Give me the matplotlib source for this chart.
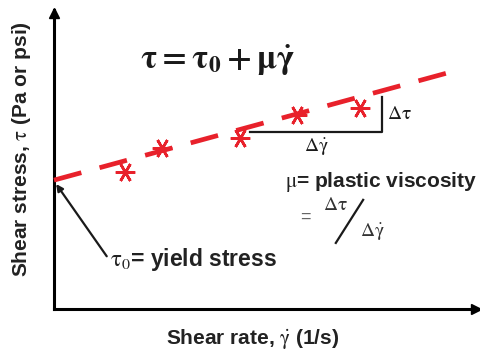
# Bingham plastic schematic: shear stress vs shear rate
import numpy as np
import matplotlib.pyplot as plt

plt.rcParams['font.family'] = ['Liberation Sans', 'DejaVu Sans']
plt.rcParams['mathtext.fontset'] = 'stix'

# schematic data (arbitrary units)
line_x = [0.0, 9.2]
line_y = [4.31, 7.89]
pts_x = [1.66, 2.53, 4.36, 5.69, 7.17]
pts_y = [4.58, 5.38, 5.72, 6.49, 6.72]
step_x = [4.59, 7.68, 7.68]
step_y = [5.92, 5.92, 7.09]
x_max = 10.0
y_max = 10.0

red = '#e8212b'
ink = '#1a1a1a'
lab = dict(fontsize=15, fontweight='bold', color='#222222')

fig = plt.figure(figsize=(4.81, 3.52), dpi=100)
ax = fig.add_axes([54 / 481, 43 / 352, 427 / 481, 299 / 352])
ax.set_xlim(0, x_max)
ax.set_ylim(0, y_max)
ax.set_xticks([])
ax.set_yticks([])
for s in ['top', 'right']:
    ax.spines[s].set_visible(False)
for s in ['left', 'bottom']:
    ax.spines[s].set_linewidth(2.2)
    ax.spines[s].set_color('black')

# arrow heads on the axes
ax.plot([x_max - 0.12], [0], marker='>', color='black', ms=7, clip_on=False)
ax.plot([0], [y_max - 0.1], marker='^', color='black', ms=7, clip_on=False)

# fitted line and data points
ax.plot(line_x, line_y, color=red, lw=3.4, dashes=(6, 4), clip_on=False, zorder=3)
ax.plot(pts_x, pts_y, ls='none', marker=(6, 2, 30), ms=14, mew=1.9,
        color=red, zorder=4)

# slope triangle
ax.plot(step_x, step_y, color=ink, lw=1.6)
ax.text(step_x[-1] + 0.12, (step_y[1] + step_y[2]) / 2, r'$\mathrm{\Delta\tau}$',
        fontsize=14, color=ink, ha='left', va='center')
ax.text((step_x[0] + step_x[1]) / 2, step_y[0] - 0.5, r'$\mathrm{\Delta\dot{\gamma}}$',
        fontsize=14, color=ink, ha='center', va='center')

# equation
ax.text(3.84, 8.33, r'$\mathbf{\tau = \tau_0 + \mu\dot{\gamma}}$',
        fontsize=24, color=ink, ha='center', va='center')

# plastic viscosity note
ax.text(5.41, 4.25, r'$\mathrm{\mu}$' + '= plastic viscosity', ha='left',
        va='center', **lab)
ax.text(5.88, 3.08, '=', fontsize=13, color='#666666', ha='center', va='center')
ax.text(6.58, 3.45, r'$\mathrm{\Delta\tau}$', fontsize=14, color='#333333',
        ha='center', va='center')
ax.text(7.45, 2.58, r'$\mathrm{\Delta\dot{\gamma}}$', fontsize=14, color='#333333',
        ha='center', va='center')
ax.plot([6.6, 7.24], [2.21, 3.65], color=ink, lw=1.6)

# yield stress callout
ax.annotate(r'$\mathrm{\tau_0}$' + '= yield stress', xy=(0.05, 4.18), xytext=(1.3, 1.64),
            ha='left', va='center', fontsize=16.5, fontweight='bold', color='#222222',
            arrowprops=dict(arrowstyle='-|>', color=ink, lw=1.6, mutation_scale=10,
                            shrinkA=0, shrinkB=0, relpos=(0, 0.5),
                            connectionstyle='angle,angleA=0,angleB=-55,rad=0'))

fig.text(253 / 481, 13 / 352, r'Shear rate, $\mathrm{\dot{\gamma}}$ (1/s)',
         ha='center', va='center', **lab)
fig.text(22 / 481, 203 / 352, r'Shear stress, $\mathrm{\tau}$ (Pa or psi)',
         ha='center', va='center', rotation=90, **lab)

fig.savefig('out.png', dpi=100)
